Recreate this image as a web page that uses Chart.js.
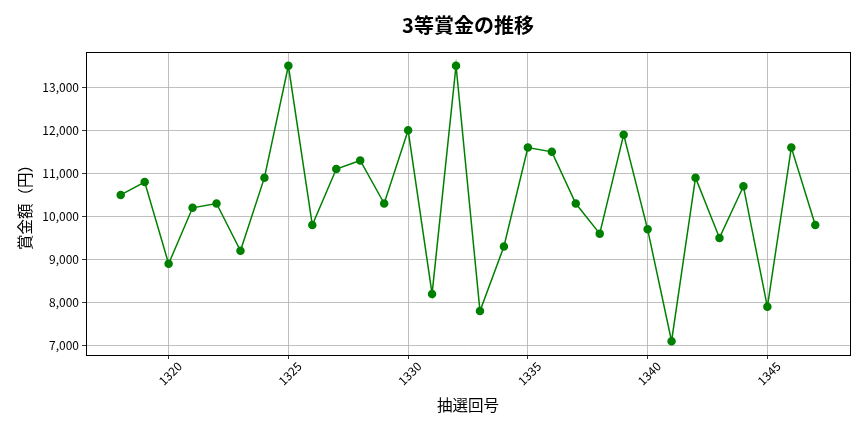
<!DOCTYPE html>
<html>
<head>
<meta charset="utf-8">
<script src="https://cdn.jsdelivr.net/npm/chart.js@4"></script>
<style>
  html, body { margin: 0; padding: 0; background: #fff; }
  #wrap { width: 864px; height: 432px; }
</style>
</head>
<body>
<div id="wrap"><canvas id="chart"></canvas></div>
<script>
const draws = [1318, 1319, 1320, 1321, 1322, 1323, 1324, 1325, 1326, 1327,
               1328, 1329, 1330, 1331, 1332, 1333, 1334, 1335, 1336, 1337,
               1338, 1339, 1340, 1341, 1342, 1343, 1344, 1345, 1346, 1347];
const prizes = [10500, 10800, 8900, 10200, 10300, 9200, 10900, 13500, 9800, 11100,
                11300, 10300, 12000, 8200, 13500, 7800, 9300, 11600, 11500, 10300,
                9600, 11900, 9700, 7100, 10900, 9500, 10700, 7900, 11600, 9800];
const xTicks = [1320, 1325, 1330, 1335, 1340, 1345];
const yTicks = [7000, 8000, 9000, 10000, 11000, 12000, 13000];
const titleText = '3等賞金の推移';

const font = "'Noto Sans CJK JP', 'Noto Sans', sans-serif";

// box around the plot area + title centred over the plot, like matplotlib
const frame = {
  id: 'frame',
  afterDraw(chart) {
    const a = chart.chartArea, c = chart.ctx;
    c.save();
    c.strokeStyle = '#000';
    c.lineWidth = 1;
    c.strokeRect(a.left + 0.5, a.top + 0.5, a.right - a.left, a.bottom - a.top);
    c.fillStyle = '#000';
    c.font = 'bold 20px ' + font;
    c.textAlign = 'center';
    c.textBaseline = 'middle';
    c.fillText(titleText, (a.left + a.right) / 2, 25);
    c.restore();
  }
};

new Chart(document.getElementById('chart'), {
  type: 'line',
  data: {
    datasets: [{
      data: draws.map((d, i) => ({ x: d, y: prizes[i] })),
      borderColor: '#008000',
      backgroundColor: '#008000',
      borderWidth: 1.5,
      pointRadius: 3.5,
      pointHoverRadius: 3.5,
      tension: 0
    }]
  },
  options: {
    responsive: true,
    maintainAspectRatio: false,
    animation: false,
    layout: { padding: { left: 12, right: 14, top: 52, bottom: 14 } },
    plugins: {
      legend: { display: false },
      tooltip: { enabled: false },
      title: { display: false }
    },
    scales: {
      x: {
        type: 'linear',
        min: 1316.55,
        max: 1348.45,
        afterBuildTicks: s => { s.ticks = xTicks.map(v => ({ value: v })); },
        afterFit: s => { s.height = 63; },
        ticks: {
          color: '#000',
          minRotation: 45,
          maxRotation: 45,
          labelOffset: 11,
          padding: 0,
          font: { family: font, size: 12 },
          callback: v => String(v)
        },
        grid: { color: '#b0b0b0', lineWidth: 0.8, tickColor: '#000', tickLength: 4 },
        border: { color: '#000' },
        title: {
          display: true,
          text: '抽選回号',
          color: '#000',
          font: { family: font, size: 15.5 },
          padding: { top: 4 }
        }
      },
      y: {
        min: 6780,
        max: 13820,
        afterBuildTicks: s => { s.ticks = yTicks.map(v => ({ value: v })); },
        afterFit: s => { s.width = 74; },
        ticks: {
          color: '#000',
          font: { family: font, size: 12 },
          callback: v => v.toLocaleString('en-US')
        },
        grid: { color: '#b0b0b0', lineWidth: 0.8, tickColor: '#000', tickLength: 4 },
        border: { color: '#000' },
        title: {
          display: true,
          text: '賞金額（円）',
          color: '#000',
          font: { family: font, size: 15.5 },
          padding: { bottom: 2 }
        }
      }
    }
  },
  plugins: [frame]
});
</script>
</body>
</html>
